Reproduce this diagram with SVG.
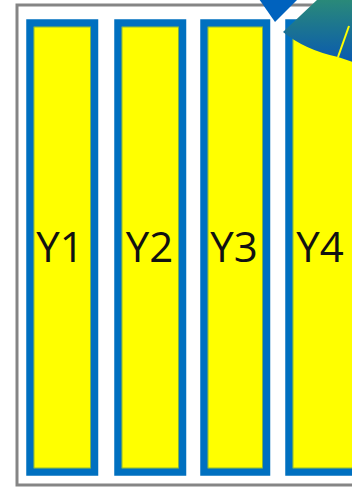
<svg xmlns="http://www.w3.org/2000/svg" width="352" height="487" viewBox="0 0 352 487">
  <defs>
    <style>
      .bar { fill: #FFFF00; stroke: #0070C0; stroke-width: 7.5; }
      .edge { fill: none; stroke: #6FA84A; stroke-width: 0.8; }
      .lbl { font-family: "Open Sans", "Liberation Sans", sans-serif; font-size: 42px; fill: #111111; text-anchor: middle; }
    </style>
    <linearGradient id="fanGrad" x1="0" y1="0" x2="0" y2="1">
      <stop offset="0" stop-color="#2A8A78"/>
      <stop offset="1" stop-color="#0A5AB0"/>
    </linearGradient>
  </defs>
  <rect x="0" y="0" width="352" height="487" fill="#FFFFFF"/>
  <g id="frame">
    <rect x="17" y="5" width="345" height="480" fill="none" stroke="#858585" stroke-width="3"/>
  </g>
  <g id="Y1">
    <rect class="bar" x="30" y="23" width="64.5" height="449"/>
    <rect class="edge" x="34" y="27" width="56.5" height="441"/>
    <text class="lbl" x="60" y="262">Y1</text>
  </g>
  <g id="Y2">
    <rect class="bar" x="118" y="23" width="64.5" height="449"/>
    <rect class="edge" x="122" y="27" width="56.5" height="441"/>
    <text class="lbl" x="149.5" y="262">Y2</text>
  </g>
  <g id="Y3">
    <rect class="bar" x="204" y="23" width="62.5" height="449"/>
    <rect class="edge" x="208" y="27" width="54.5" height="441"/>
    <text class="lbl" x="234" y="262">Y3</text>
  </g>
  <g id="Y4">
    <rect class="bar" x="289" y="23" width="80" height="449"/>
    <rect class="edge" x="293" y="27" width="72" height="441"/>
    <text class="lbl" x="320" y="262">Y4</text>
  </g>
  <g id="wedge">
    <path d="M259,-1 L298,-1 L275,22 Z" fill="#0062BE"/>
  </g>
  <g id="fan">
    <path d="M283,32 L318,-1 L353,-1 L353,62 L338,57 Q305,50 283,32 Z" fill="url(#fanGrad)"/>
    <line x1="338" y1="57" x2="349" y2="26" stroke="#FFFF00" stroke-width="2"/>
  </g>
</svg>
